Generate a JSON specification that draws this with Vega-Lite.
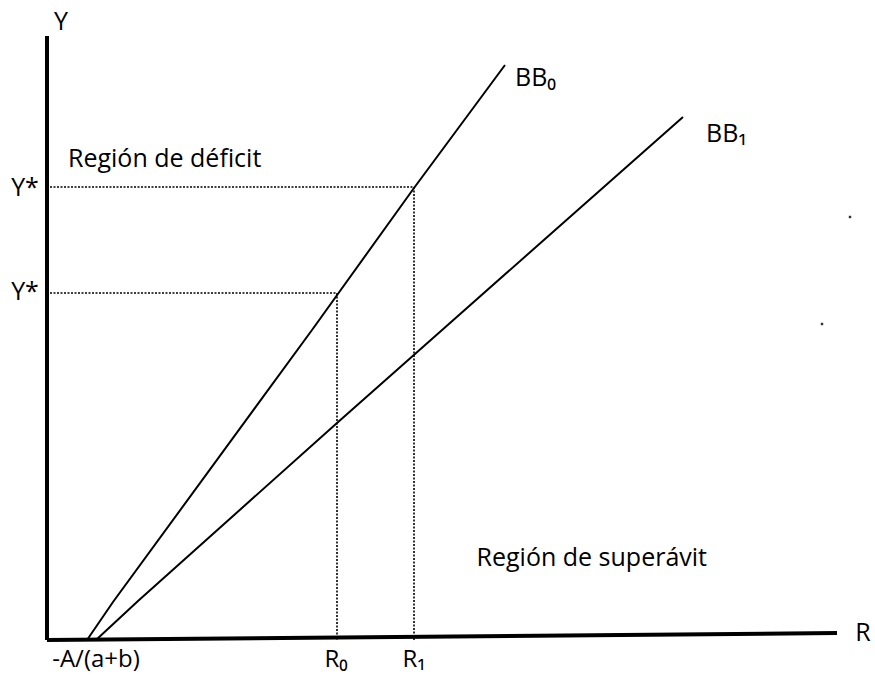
{
  "$schema": "https://vega.github.io/schema/vega-lite/v6.json",
  "width": 875,
  "height": 677,
  "autosize": {"type": "none"},
  "padding": 0,
  "background": "white",
  "config": {"view": {"stroke": null}, "text": {"font": "Open Sans", "fontSize": 25, "color": "black"}},
  "layer": [
    {
      "data": {"values": [
        {"x": 0, "y": 0, "x2": 0, "y2": 604},
        {"x": 0, "y": 0, "x2": 790, "y2": 7}
      ]},
      "mark": {"type": "rule", "strokeWidth": 4, "color": "black"},
      "encoding": {
        "x": {"field": "x", "type": "quantitative", "scale": {"domain": [-47, 828], "nice": false, "zero": false}, "axis": null},
        "y": {"field": "y", "type": "quantitative", "scale": {"domain": [-37, 640], "nice": false, "zero": false}, "axis": null},
        "x2": {"field": "x2"},
        "y2": {"field": "y2"}
      }
    },
    {
      "data": {"values": [
        {"x": 3, "y": 453, "x2": 367, "y2": 453},
        {"x": 367, "y": 453, "x2": 367, "y2": 0},
        {"x": 3, "y": 347, "x2": 290, "y2": 347},
        {"x": 290, "y": 347, "x2": 290, "y2": 0}
      ]},
      "mark": {"type": "rule", "strokeWidth": 1.6, "strokeDash": [2, 1.5], "color": "black"},
      "encoding": {
        "x": {"field": "x", "type": "quantitative", "scale": {"domain": [-47, 828], "nice": false, "zero": false}, "axis": null},
        "y": {"field": "y", "type": "quantitative", "scale": {"domain": [-37, 640], "nice": false, "zero": false}, "axis": null},
        "x2": {"field": "x2"},
        "y2": {"field": "y2"}
      }
    },
    {
      "data": {"values": [
        {"curve": "BB0", "x": 40, "y": 0},
        {"curve": "BB0", "x": 66, "y": 38},
        {"curve": "BB0", "x": 265, "y": 310},
        {"curve": "BB0", "x": 367, "y": 452},
        {"curve": "BB0", "x": 458, "y": 575},
        {"curve": "BB1", "x": 49, "y": 0},
        {"curve": "BB1", "x": 91, "y": 39},
        {"curve": "BB1", "x": 290, "y": 217},
        {"curve": "BB1", "x": 403, "y": 317},
        {"curve": "BB1", "x": 636, "y": 523}
      ]},
      "mark": {"type": "line", "strokeWidth": 2, "color": "black"},
      "encoding": {
        "x": {"field": "x", "type": "quantitative", "scale": {"domain": [-47, 828], "nice": false, "zero": false}, "axis": null},
        "y": {"field": "y", "type": "quantitative", "scale": {"domain": [-37, 640], "nice": false, "zero": false}, "axis": null},
        "detail": {"field": "curve"},
        "order": {"field": "x", "type": "quantitative"}
      }
    },
    {
      "data": {"values": [
        {"x": 803, "y": 423},
        {"x": 775, "y": 316}
      ]},
      "mark": {"type": "square", "size": 6, "color": "black", "opacity": 0.8, "filled": true},
      "encoding": {
        "x": {"field": "x", "type": "quantitative", "scale": {"domain": [-47, 828], "nice": false, "zero": false}, "axis": null},
        "y": {"field": "y", "type": "quantitative", "scale": {"domain": [-37, 640], "nice": false, "zero": false}, "axis": null}
      }
    },
    {
      "data": {"values": [
        {"label": "Y", "x": 14, "y": 618},
        {"label": "R", "x": 816, "y": 7},
        {"label": "Y*", "x": -22, "y": 452},
        {"label": "Y*", "x": -22, "y": 348}
      ]},
      "mark": {"type": "text", "align": "center", "baseline": "middle"},
      "encoding": {
        "x": {"field": "x", "type": "quantitative", "scale": {"domain": [-47, 828], "nice": false, "zero": false}, "axis": null},
        "y": {"field": "y", "type": "quantitative", "scale": {"domain": [-37, 640], "nice": false, "zero": false}, "axis": null},
        "text": {"field": "label"}
      }
    },
    {
      "data": {"values": [
        {"label": "-A/(a+b)", "x": 49, "y": -27},
        {"label": "R₀", "x": 289, "y": -27},
        {"label": "R₁", "x": 367, "y": -27}
      ]},
      "mark": {"type": "text", "align": "center", "baseline": "alphabetic", "fontSize": 24},
      "encoding": {
        "x": {"field": "x", "type": "quantitative", "scale": {"domain": [-47, 828], "nice": false, "zero": false}, "axis": null},
        "y": {"field": "y", "type": "quantitative", "scale": {"domain": [-37, 640], "nice": false, "zero": false}, "axis": null},
        "text": {"field": "label"}
      }
    },
    {
      "data": {"values": [
        {"label": "Región de déficit", "x": 21, "y": 481},
        {"label": "BB₀", "x": 468, "y": 562},
        {"label": "BB₁", "x": 659, "y": 506}
      ]},
      "mark": {"type": "text", "align": "left", "baseline": "middle"},
      "encoding": {
        "x": {"field": "x", "type": "quantitative", "scale": {"domain": [-47, 828], "nice": false, "zero": false}, "axis": null},
        "y": {"field": "y", "type": "quantitative", "scale": {"domain": [-37, 640], "nice": false, "zero": false}, "axis": null},
        "text": {"field": "label"}
      }
    },
    {
      "data": {"values": [
        {"label": "Región de superávit", "x": 660, "y": 82}
      ]},
      "mark": {"type": "text", "align": "right", "baseline": "middle"},
      "encoding": {
        "x": {"field": "x", "type": "quantitative", "scale": {"domain": [-47, 828], "nice": false, "zero": false}, "axis": null},
        "y": {"field": "y", "type": "quantitative", "scale": {"domain": [-37, 640], "nice": false, "zero": false}, "axis": null},
        "text": {"field": "label"}
      }
    }
  ]
}
